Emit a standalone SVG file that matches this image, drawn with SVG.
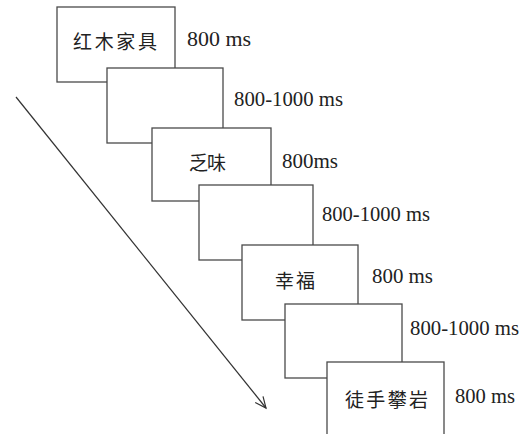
<svg xmlns="http://www.w3.org/2000/svg" width="526" height="434" viewBox="0 0 526 434">
  <style>
    .box { fill: #ffffff; stroke: #4a4a4a; stroke-width: 1.3; }
    .cjk { font-family: "Noto Sans CJK SC", "Noto Sans CJK JP", sans-serif; font-size: 19px; fill: #222; }
    .t { font-family: "Liberation Serif", "Times New Roman", serif; font-size: 20px; fill: #222; }
    .conn { stroke: #333; stroke-width: 1.2; fill: none; }
  </style>
  <defs>
    <marker id="arr" markerWidth="14" markerHeight="14" refX="12" refY="6" orient="auto" markerUnits="userSpaceOnUse">
      <path d="M1,1 L12,6 L1,11" fill="none" stroke="#333" stroke-width="1.2"/>
    </marker>
  </defs>
  <rect width="526" height="434" fill="#ffffff"/>

  <g id="node1">
    <rect class="box" x="57" y="7" width="118" height="75"/>
    <text class="cjk" x="73" y="49" textLength="84" lengthAdjust="spacing">红木家具</text>
    <text class="t" x="187" y="46" textLength="64" lengthAdjust="spacingAndGlyphs">800 ms</text>
  </g>
  <g id="node2">
    <rect class="box" x="107" y="68" width="116" height="75"/>
    <text class="t" x="234" y="106" textLength="109" lengthAdjust="spacingAndGlyphs">800-1000 ms</text>
  </g>
  <g id="node3">
    <rect class="box" x="152" y="128" width="119" height="73"/>
    <text class="cjk" x="189" y="170" textLength="37" lengthAdjust="spacing">乏味</text>
    <text class="t" x="282" y="168" textLength="56" lengthAdjust="spacingAndGlyphs">800ms</text>
  </g>
  <g id="node4">
    <rect class="box" x="199" y="185" width="114" height="75"/>
    <text class="t" x="322" y="221" textLength="108" lengthAdjust="spacingAndGlyphs">800-1000 ms</text>
  </g>
  <g id="node5">
    <rect class="box" x="242" y="245" width="116" height="75"/>
    <text class="cjk" x="275" y="288" textLength="40" lengthAdjust="spacing">幸福</text>
    <text class="t" x="372" y="283" textLength="61" lengthAdjust="spacingAndGlyphs">800 ms</text>
  </g>
  <g id="node6">
    <rect class="box" x="285" y="304" width="117" height="74"/>
    <text class="t" x="410" y="335" textLength="109" lengthAdjust="spacingAndGlyphs">800-1000 ms</text>
  </g>
  <g id="node7">
    <rect class="box" x="327" y="362" width="117" height="80"/>
    <text class="cjk" x="345" y="407" textLength="83" lengthAdjust="spacing">徒手攀岩</text>
    <text class="t" x="455" y="403" textLength="60" lengthAdjust="spacingAndGlyphs">800 ms</text>
  </g>

  <g id="connectors">
    <line class="conn" x1="16" y1="97" x2="266" y2="408" marker-end="url(#arr)"/>
  </g>
</svg>
